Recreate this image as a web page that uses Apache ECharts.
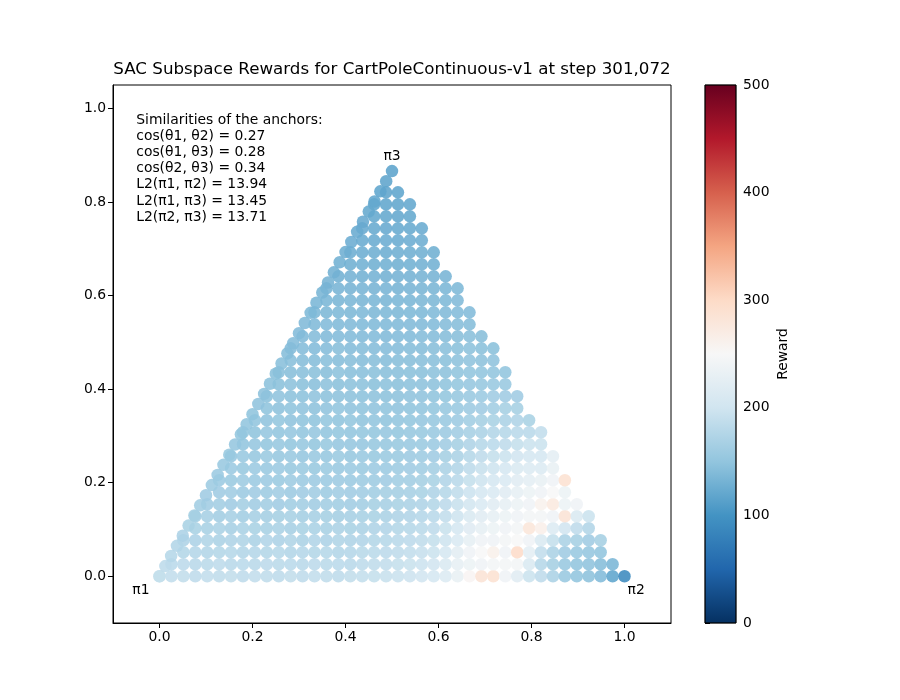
<!DOCTYPE html>
<html>
<head>
<meta charset="utf-8">
<script src="https://cdn.jsdelivr.net/npm/echarts@6/dist/echarts.min.js"></script>
<style>
html, body { margin: 0; padding: 0; background: #fff; }
#main { width: 900px; height: 700px; }
</style>
</head>
<body>
<div id="main"></div>
<script>
// Pas de la grille : colonnes x = i/39, lignes y = k/39, gardees a l'interieur du triangle
var gridStep = 1 / 39;

// Recompenses, une liste par colonne (de y = 0 vers le haut)
var columnRewards = [
	[190],
	[188, 182],
	[187, 183, 176, 172],
	[185, 180, 177, 171, 168, 164],
	[188, 181, 175, 173, 167, 166, 161],
	[186, 184, 176, 170, 169, 163, 163, 160, 157],
	[187, 180, 178, 172, 166, 166, 160, 161, 156, 157, 152],
	[185, 182, 175, 173, 169, 163, 164, 158, 159, 154, 155, 150, 151],
	[188, 180, 177, 170, 168, 166, 161, 160, 157, 157, 153, 152, 149, 150],
	[186, 183, 176, 174, 167, 164, 163, 159, 158, 155, 156, 151, 152, 148, 149, 146],
	[184, 181, 178, 171, 169, 165, 160, 161, 156, 157, 153, 153, 150, 151, 147, 148, 145, 144],
	[187, 182, 175, 173, 166, 167, 162, 158, 159, 154, 155, 151, 152, 148, 149, 146, 147, 143, 144, 141],
	[185, 180, 177, 170, 168, 164, 163, 160, 157, 156, 152, 153, 150, 149, 148, 146, 145, 144, 142, 141, 139],
	[188, 183, 176, 174, 169, 166, 161, 161, 158, 154, 155, 151, 152, 149, 147, 148, 144, 145, 142, 140, 141, 138, 136],
	[186, 181, 178, 171, 167, 165, 163, 159, 157, 156, 153, 154, 150, 151, 148, 146, 147, 143, 144, 141, 139, 140, 136, 135, 132],
	[184, 182, 175, 173, 170, 164, 162, 161, 158, 155, 156, 152, 151, 149, 150, 147, 145, 146, 142, 143, 140, 138, 137, 134, 133, 130],
	[187, 180, 177, 172, 168, 166, 161, 160, 157, 157, 153, 152, 150, 151, 148, 147, 146, 144, 143, 141, 140, 139, 136, 135, 132, 131, 128, 126],
	[189, 184, 179, 174, 170, 167, 163, 161, 159, 156, 155, 152, 151, 149, 149, 146, 146, 144, 142, 142, 139, 138, 137, 134, 133, 130, 129, 126, 124, 122],
	[190, 186, 181, 176, 172, 168, 165, 162, 159, 158, 154, 153, 151, 150, 148, 147, 145, 145, 143, 141, 140, 138, 136, 135, 132, 131, 128, 127, 124, 123, 121, 119],
	[192, 188, 183, 178, 174, 170, 166, 164, 160, 157, 156, 153, 152, 149, 149, 146, 146, 144, 142, 141, 139, 138, 137, 134, 133, 130, 129, 126, 125, 122, 121, 119, 117],
	[194, 190, 185, 180, 176, 172, 168, 164, 162, 159, 156, 154, 151, 150, 148, 147, 145, 144, 143, 141, 140, 138, 136, 135, 132, 131, 128, 127, 124, 123, 120, 119, 118],
	[197, 193, 188, 183, 178, 174, 170, 166, 163, 160, 158, 155, 153, 151, 149, 148, 146, 145, 143, 142, 140, 139, 137, 135, 133, 131, 129, 127, 125, 123, 121, 120],
	[200, 196, 191, 186, 181, 177, 172, 168, 165, 162, 159, 156, 154, 152, 150, 148, 147, 145, 144, 142, 141, 139, 137, 136, 134, 132, 130, 128, 126, 124],
	[205, 200, 195, 190, 185, 180, 176, 172, 168, 164, 160, 157, 155, 153, 151, 149, 147, 146, 144, 143, 141, 140, 138, 136, 134, 132, 130, 128],
	[215, 210, 205, 198, 193, 188, 183, 178, 174, 170, 165, 161, 158, 155, 153, 151, 149, 147, 145, 144, 142, 141, 139, 137, 135, 133],
	[230, 228, 222, 212, 205, 198, 192, 186, 180, 175, 170, 165, 161, 158, 155, 153, 151, 149, 147, 145, 143, 142, 140, 139, 137],
	[255, 235, 240, 228, 218, 210, 203, 196, 190, 184, 178, 172, 166, 162, 158, 155, 152, 150, 148, 146, 144, 142, 140],
	[285, 240, 250, 240, 228, 220, 212, 205, 198, 192, 185, 178, 170, 165, 160, 157, 153, 150, 147, 145, 143],
	[290, 245, 262, 240, 235, 228, 220, 212, 205, 198, 190, 182, 175, 168, 163, 160, 155, 150, 148, 145],
	[240, 245, 240, 245, 240, 235, 228, 220, 212, 205, 195, 185, 178, 170, 165, 160, 155, 150],
	[220, 245, 298, 250, 245, 240, 235, 228, 220, 210, 200, 190, 180, 172, 165, 160],
	[195, 210, 225, 240, 280, 245, 240, 235, 225, 215, 205, 195, 180, 168],
	[185, 178, 188, 210, 265, 245, 260, 240, 230, 215, 205, 195, 188],
	[170, 165, 170, 190, 215, 240, 275, 250, 240, 230, 225],
	[155, 155, 160, 170, 200, 285, 235, 235, 290],
	[150, 150, 155, 165, 185, 210, 240],
	[147, 148, 152, 160, 175, 195],
	[140, 142, 150, 165],
	[118, 135],
	[90]
];

// Points poses sur l'arete pi1 - pi3 (t = j/40)
var edgeRewards = [190, 184, 178, 175, 171, 168, 165, 163, 160, 159, 157, 155, 154, 152, 151, 150, 149, 148, 147, 146,
	145, 144, 142, 141, 140, 139, 137, 135, 134, 132, 130, 129, 127, 125, 124, 122, 121, 120, 118, 117, 116];

var xTicks = [0, 0.2, 0.4, 0.6, 0.8, 1.0];
var yTicks = [0, 0.2, 0.4, 0.6, 0.8, 1.0];
var colorbarTicks = [0, 100, 200, 300, 400, 500];
// Palette RdBu_r (de 0 vers 500)
var rdbuColors = ['#053061', '#2166ac', '#4393c3', '#92c5de', '#d1e5f0', '#f7f7f7',
	'#fddbc7', '#f4a582', '#d6604d', '#b2182b', '#67001f'];
var anchorNames = ['π1', 'π2', 'π3'];
var anchorLabelPos = [[-0.04, -0.03], [1.025, -0.03], [0.5, 0.898]];
var similarityLines = [
	'Similarities of the anchors:',
	'cos(θ1, θ2) = 0.27',
	'cos(θ1, θ3) = 0.28',
	'cos(θ2, θ3) = 0.34',
	'L2(π1, π2) = 13.94',
	'L2(π1, π3) = 13.45',
	'L2(π2, π3) = 13.71'
];
var chartTitle = 'SAC Subspace Rewards for CartPoleContinuous-v1 at step 301,072';

var FONT = 'DejaVu Sans';

// Construit les points [x, y, reward]
var points = [];
for (var i = 0; i < columnRewards.length; i++) {
	for (var k = 0; k < columnRewards[i].length; k++) {
		points.push([i * gridStep, k * gridStep, columnRewards[i][k]]);
	}
}
for (var j = 0; j < edgeRewards.length; j++) {
	var t = j / (edgeRewards.length - 1);
	points.push([t / 2, t * Math.sqrt(3) / 2, edgeRewards[j]]);
}

var gradientStops = rdbuColors.map(function(c, idx) {
	return { offset: idx / (rdbuColors.length - 1), color: c };
});

var myChart = echarts.init(document.getElementById('main'));

var option = {
	animation: false,
	backgroundColor: '#fff',
	textStyle: { fontFamily: FONT },
	grid: [
		{ left: 113, top: 85, width: 558, height: 538, show: true, borderColor: '#000', borderWidth: 1, backgroundColor: 'transparent' },
		{ left: 705, top: 85, width: 31, height: 538 }
	],
	xAxis: [{
		gridIndex: 0, type: 'value', min: -0.1, max: 1.1,
		splitLine: { show: false },
		axisLine: { show: true, onZero: false, lineStyle: { color: '#000', width: 1 } },
		axisTick: { show: true, customValues: xTicks, length: 5, lineStyle: { color: '#000', width: 1 } },
		axisLabel: { customValues: xTicks, color: '#000', fontSize: 13.9, fontFamily: FONT, margin: 7,
			formatter: function(v) { return v.toFixed(1); } }
	}, {
		gridIndex: 1, type: 'value', min: 0, max: 1, show: false
	}],
	yAxis: [{
		gridIndex: 0, type: 'value', min: -0.1, max: 1.05,
		splitLine: { show: false },
		axisLine: { show: true, onZero: false, lineStyle: { color: '#000', width: 1 } },
		axisTick: { show: true, customValues: yTicks, length: 5, lineStyle: { color: '#000', width: 1 } },
		axisLabel: { customValues: yTicks, color: '#000', fontSize: 13.9, fontFamily: FONT, margin: 7,
			formatter: function(v) { return v.toFixed(1); } }
	}, {
		gridIndex: 1, type: 'value', min: 0, max: 500, interval: 100, position: 'right',
		splitLine: { show: false },
		axisLine: { show: false },
		axisTick: { show: true, length: 5, lineStyle: { color: '#000', width: 1 } },
		axisLabel: { customValues: colorbarTicks, color: '#000', fontSize: 13.9, fontFamily: FONT, margin: 7 },
		name: 'Reward', nameLocation: 'middle', nameRotate: 90, nameGap: 40,
		nameTextStyle: { color: '#000', fontSize: 13.9, fontFamily: FONT }
	}],
	visualMap: {
		show: false, type: 'continuous', min: 0, max: 500, dimension: 2, seriesIndex: 0,
		inRange: { color: rdbuColors }
	},
	series: [{
		type: 'scatter',
		xAxisIndex: 0, yAxisIndex: 0,
		symbol: 'circle',
		symbolSize: 12.5,
		data: points,
		silent: true,
		itemStyle: { opacity: 0.88 }
	}, {
		// Barre de couleur
		type: 'custom',
		xAxisIndex: 1, yAxisIndex: 1,
		data: [[0, 0]],
		silent: true,
		renderItem: function(params, api) {
			var cs = params.coordSys;
			return {
				type: 'rect',
				shape: { x: cs.x, y: cs.y, width: cs.width, height: cs.height },
				style: {
					fill: new echarts.graphic.LinearGradient(0, 1, 0, 0, gradientStops),
					stroke: '#000', lineWidth: 0.8
				}
			};
		}
	}]
};

myChart.setOption(option);

// Textes places en coordonnees de donnees
var graphics = [];
var titlePos = myChart.convertToPixel({ gridIndex: 0 }, [0.5, 1.05]);
graphics.push({
	type: 'text', x: titlePos[0], y: titlePos[1] - 7,
	style: { text: chartTitle, fill: '#000', font: '16.7px ' + FONT, align: 'center', verticalAlign: 'bottom' }
});
var simPos = myChart.convertToPixel({ gridIndex: 0 }, [-0.05, 0.75]);
graphics.push({
	type: 'text', x: simPos[0], y: simPos[1],
	style: { text: similarityLines.join('\n'), fill: '#000', font: '13.9px ' + FONT, lineHeight: 16.2, align: 'left', verticalAlign: 'bottom' }
});
for (var a = 0; a < anchorNames.length; a++) {
	var p = myChart.convertToPixel({ gridIndex: 0 }, anchorLabelPos[a]);
	graphics.push({
		type: 'text', x: p[0], y: p[1],
		style: { text: anchorNames[a], fill: '#000', font: '13.9px ' + FONT, align: 'center', verticalAlign: 'middle' }
	});
}
myChart.setOption({ graphic: graphics });
</script>
</body>
</html>
